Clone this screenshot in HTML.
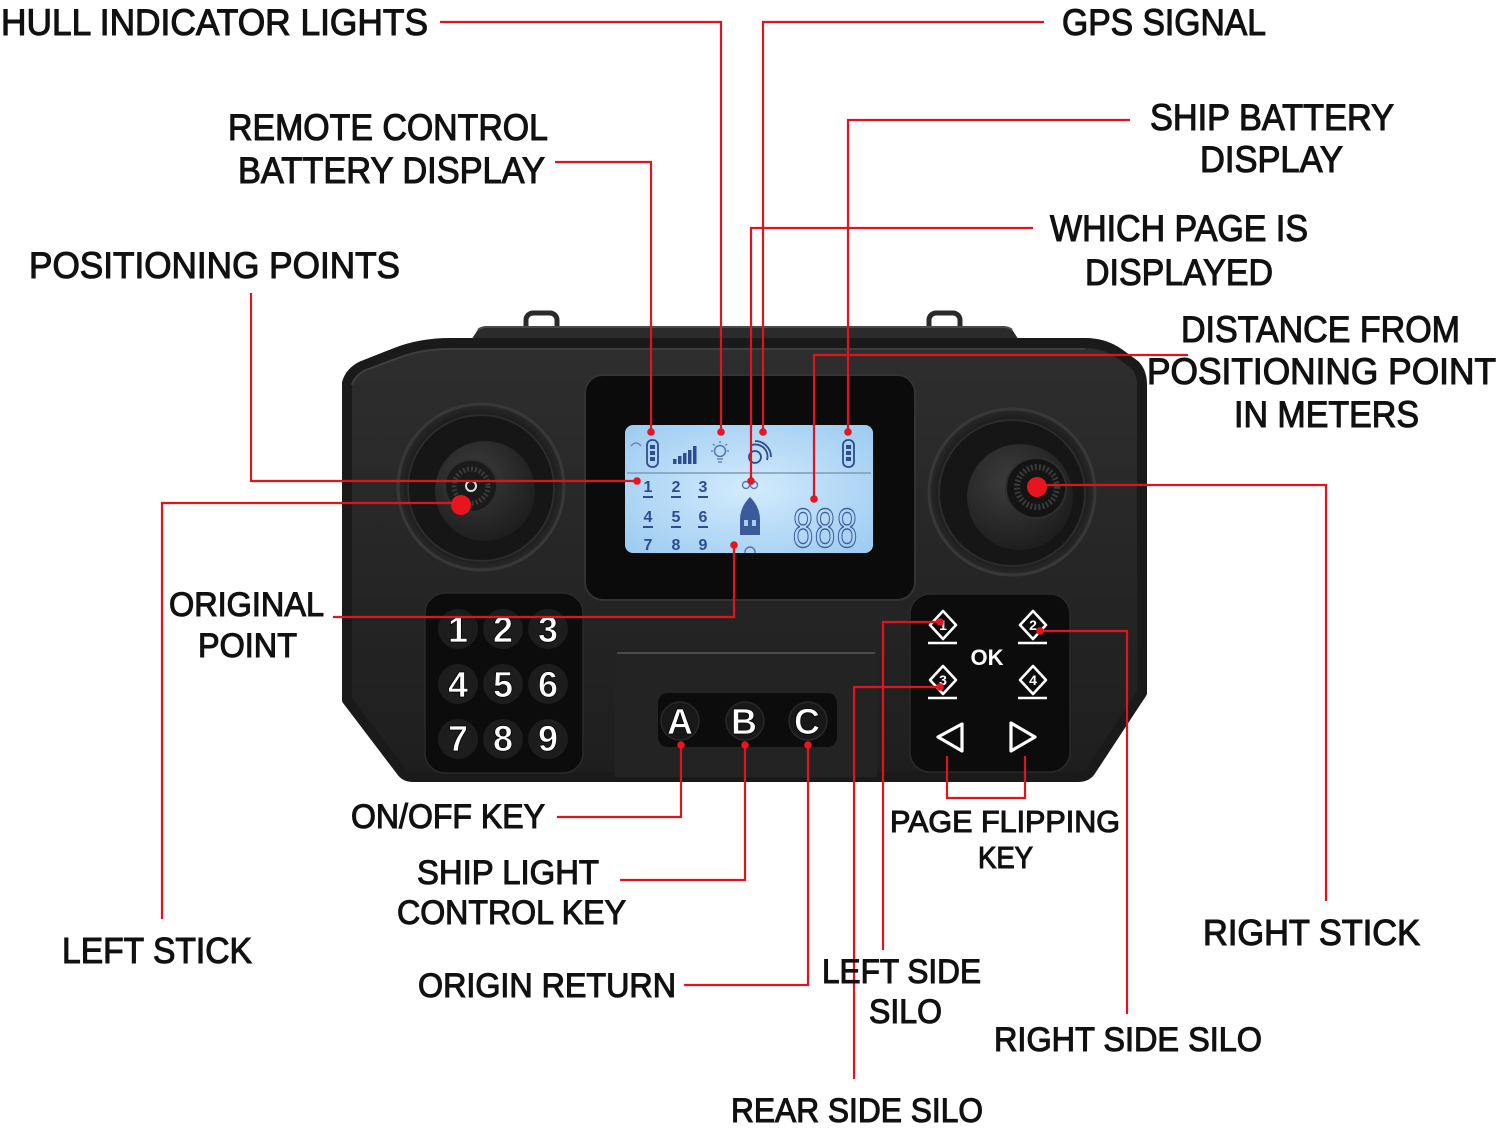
<!DOCTYPE html>
<html>
<head>
<meta charset="utf-8">
<style>
html,body{margin:0;padding:0;background:#fff;}
svg{display:block;}
.t{font-family:"Liberation Sans",sans-serif;font-size:37px;fill:#111;stroke:#111;stroke-width:1.1px;}
.s{font-size:34px;}
.k{font-family:"Liberation Sans",sans-serif;font-weight:bold;fill:#fff;stroke:#000;stroke-width:0.8px;text-anchor:middle;}
.lcd{font-family:"Liberation Sans",sans-serif;font-size:16px;font-weight:bold;fill:#2d4d90;text-anchor:middle;}
.r{fill:none;stroke:#e0141e;stroke-width:2.2;}
.d{fill:#e8141e;}
</style>
</head>
<body>
<svg width="1500" height="1129" viewBox="0 0 1500 1129" xmlns="http://www.w3.org/2000/svg">
<defs>
  <linearGradient id="bodyG" x1="0" y1="0" x2="0" y2="1">
    <stop offset="0" stop-color="#2e2e2e"/>
    <stop offset="1" stop-color="#1e1e1e"/>
  </linearGradient>
  <radialGradient id="lcdG" cx="0.5" cy="0.5" r="0.7">
    <stop offset="0" stop-color="#d2ebfd"/>
    <stop offset="1" stop-color="#9ccbf0"/>
  </radialGradient>
  <radialGradient id="capG" cx="0.4" cy="0.35" r="0.75">
    <stop offset="0" stop-color="#3c3c3c"/>
    <stop offset="1" stop-color="#1a1a1a"/>
  </radialGradient>
  <radialGradient id="ringG" cx="0.5" cy="0.5" r="0.5">
    <stop offset="0.8" stop-color="#141414"/>
    <stop offset="1" stop-color="#2a2a2a"/>
  </radialGradient>
  <clipPath id="lcdClip"><rect x="625" y="425" width="248" height="128" rx="8"/></clipPath>
</defs>

<rect x="0" y="0" width="1500" height="1129" fill="#fff"/>

<!-- tabs -->
<rect x="526" y="313" width="31" height="20" rx="7" fill="none" stroke="#2a2a2a" stroke-width="5"/>
<rect x="929" y="313" width="31" height="20" rx="7" fill="none" stroke="#2a2a2a" stroke-width="5"/>
<!-- raised band -->
<path d="M466,348 L477,331 Q480,326 487,326 H1003 Q1010,326 1013,331 L1024,348 Z" fill="#2b2b2b"/>
<path d="M478,330 Q481,327 487,327 H1003 Q1009,327 1012,330" fill="none" stroke="#4a4a4a" stroke-width="2"/>

<!-- body -->
<path d="M347,383 Q350,372 362,366 L395,353 Q420,343 450,343 H1085 Q1105,343 1120,354 L1135,365 Q1142,372 1142,385 V693 L1090,772 Q1086,777 1078,777 H413 Q405,777 401,771 L347,700 Z"
      fill="url(#bodyG)" stroke="#1a1a1a" stroke-width="10" stroke-linejoin="round"/>
<path d="M352,385 Q355,375 366,370 L398,358 Q422,349 450,349 H1085" fill="none" stroke="#3e3e3e" stroke-width="2"/>

<!-- left joystick -->
<circle cx="481" cy="487" r="83" fill="url(#ringG)" stroke="#383838" stroke-width="3"/>
<circle cx="481" cy="488" r="73" fill="#161616" stroke="#2c2c2c" stroke-width="2"/>
<circle cx="485" cy="491" r="50" fill="url(#capG)"/>
<circle cx="471" cy="486" r="26" fill="#1a1a1a" stroke="#2e2e2e" stroke-width="2"/>
<circle cx="471" cy="486" r="17" fill="none" stroke="#3a3a3a" stroke-width="5" stroke-dasharray="2 2"/>
<circle cx="471" cy="486" r="5" fill="none" stroke="#ddd" stroke-width="2"/>

<!-- right joystick -->
<circle cx="1012" cy="492" r="83" fill="url(#ringG)" stroke="#383838" stroke-width="3"/>
<circle cx="1012" cy="493" r="73" fill="#161616" stroke="#2c2c2c" stroke-width="2"/>
<circle cx="1020" cy="497" r="53" fill="url(#capG)"/>
<circle cx="1036" cy="488" r="30" fill="#141414" stroke="#2e2e2e" stroke-width="2"/>
<circle cx="1037" cy="487" r="20" fill="none" stroke="#3a3a3a" stroke-width="6" stroke-dasharray="2 2"/>

<!-- LCD bezel -->
<rect x="585" y="375" width="330" height="225" rx="18" fill="#0b0b0b" stroke="#333" stroke-width="2"/>
<rect x="625" y="425" width="248" height="128" rx="8" fill="url(#lcdG)"/>
<g clip-path="url(#lcdClip)">
  <path d="M631,446 Q636,440 641,446" fill="none" stroke="#6d86b8" stroke-width="1.5"/>
  <rect x="647" y="440" width="11" height="27" rx="5" fill="none" stroke="#2d4d90" stroke-width="1.8"/>
  <rect x="650" y="445" width="5" height="4" fill="#2d4d90"/>
  <rect x="650" y="451" width="5" height="4" fill="#2d4d90"/>
  <rect x="650" y="457" width="5" height="4" fill="#2d4d90"/>
  <rect x="673" y="459" width="3.5" height="5" fill="#2d4d90"/>
  <rect x="678" y="456" width="3.5" height="8" fill="#2d4d90"/>
  <rect x="683" y="453" width="3.5" height="11" fill="#2d4d90"/>
  <rect x="688" y="450" width="3.5" height="14" fill="#2d4d90"/>
  <rect x="693" y="446" width="3.5" height="18" fill="#2d4d90"/>
  <circle cx="720" cy="451" r="5.5" fill="none" stroke="#5873ad" stroke-width="1.5"/>
  <path d="M717,459 H723 M718,462 H722 M720,441 V443 M711,451 H713 M727,451 H729 M713,444 L714.5,445.5 M727,444 L725.5,445.5" stroke="#5873ad" stroke-width="1.3"/>
  <circle cx="755" cy="457" r="6" fill="none" stroke="#2d4d90" stroke-width="1.8"/>
  <path d="M752,445 A12,12 0 0 1 767,460 M755,441 A16,16 0 0 1 771,457" fill="none" stroke="#2d4d90" stroke-width="1.8"/>
  <rect x="843" y="440" width="11" height="27" rx="5" fill="none" stroke="#2d4d90" stroke-width="1.8"/>
  <rect x="846" y="445" width="5" height="4" fill="#2d4d90"/>
  <rect x="846" y="451" width="5" height="4" fill="#2d4d90"/>
  <rect x="846" y="457" width="5" height="4" fill="#2d4d90"/>
  <line x1="627" y1="473" x2="871" y2="473" stroke="#7d9bb5" stroke-width="1.5"/>
  <text class="lcd" x="648" y="492">1</text>
  <text class="lcd" x="676" y="492">2</text>
  <text class="lcd" x="703" y="492">3</text>
  <text class="lcd" x="648" y="522">4</text>
  <text class="lcd" x="676" y="522">5</text>
  <text class="lcd" x="703" y="522">6</text>
  <text class="lcd" x="648" y="550">7</text>
  <text class="lcd" x="676" y="550">8</text>
  <text class="lcd" x="703" y="550">9</text>
  <path d="M643,497 H653 M671,497 H681 M698,497 H708 M643,527 H653 M671,527 H681 M698,527 H708" stroke="#2d4d90" stroke-width="2"/>
  <circle cx="746" cy="485" r="3.5" fill="none" stroke="#5873ad" stroke-width="1.4"/>
  <circle cx="754" cy="485" r="3.5" fill="none" stroke="#5873ad" stroke-width="1.4"/>
  <path d="M750,497 Q760,507 760,520 V535 H740 V520 Q740,507 750,497 Z" fill="#3b5a9c"/>
  <rect x="744" y="520" width="4" height="6" fill="#a9cdf0"/>
  <rect x="752" y="520" width="4" height="6" fill="#a9cdf0"/>
  <circle cx="750" cy="552" r="5" fill="none" stroke="#5873ad" stroke-width="1.4"/>
  <text x="792" y="547" font-family="DejaVu Sans Mono, monospace" font-size="52" fill="none" stroke="#3d5d9c" stroke-width="1.4" textLength="66" lengthAdjust="spacingAndGlyphs">888</text>
</g>

<!-- left keypad -->
<rect x="425" y="593" width="158" height="180" rx="20" fill="#0c0c0c" stroke="#2a2a2a" stroke-width="1.5"/>
<g fill="#1d1d1d">
  <circle cx="458" cy="629" r="20"/><circle cx="503" cy="629" r="20"/><circle cx="548" cy="629" r="20"/>
  <circle cx="458" cy="684" r="20"/><circle cx="503" cy="684" r="20"/><circle cx="548" cy="684" r="20"/>
  <circle cx="458" cy="739" r="20"/><circle cx="503" cy="739" r="20"/><circle cx="548" cy="739" r="20"/>
</g>
<g class="k" font-size="36">
  <text x="458" y="642">1</text><text x="503" y="642">2</text><text x="548" y="642">3</text>
  <text x="458" y="697">4</text><text x="503" y="697">5</text><text x="548" y="697">6</text>
  <text x="458" y="751">7</text><text x="503" y="751">8</text><text x="548" y="751">9</text>
</g>

<!-- middle panel -->
<rect x="615" y="652" width="262" height="125" fill="#232323"/>
<line x1="617" y1="653" x2="875" y2="653" stroke="#4a4a4a" stroke-width="2"/>
<rect x="658" y="693" width="179" height="54" rx="10" fill="#0c0c0c"/>
<circle cx="680" cy="721" r="19" fill="#181818" stroke="#282828" stroke-width="1.5"/>
<circle cx="745" cy="721" r="19" fill="#181818" stroke="#282828" stroke-width="1.5"/>
<circle cx="808" cy="721" r="19" fill="#181818" stroke="#282828" stroke-width="1.5"/>
<g class="k" font-size="36">
  <text x="680" y="734">A</text><text x="744" y="734">B</text><text x="807" y="734">C</text>
</g>

<!-- right keypad -->
<rect x="910" y="594" width="160" height="178" rx="20" fill="#0c0c0c" stroke="#2a2a2a" stroke-width="1.5"/>
<g fill="none" stroke="#fff" stroke-width="2.6" stroke-linejoin="round">
  <path d="M943,611 L956,625 L943,639 L930,625 Z"/>
  <path d="M1033,611 L1046,625 L1033,639 L1020,625 Z"/>
  <path d="M943,666 L956,680 L943,694 L930,680 Z"/>
  <path d="M1033,666 L1046,680 L1033,694 L1020,680 Z"/>
  <path d="M928,643 H957 M1018,643 H1047 M928,698 H957 M1018,698 H1047"/>
  <path d="M962,724 L938,737 L962,751 Z" stroke-width="3.2"/>
  <path d="M1011,723 L1035,737 L1011,751 Z" stroke-width="3.2"/>
</g>
<g font-family="Liberation Sans, sans-serif" font-weight="bold" fill="#fff" text-anchor="middle">
  <text x="943" y="630" font-size="14">1</text>
  <text x="1033" y="630" font-size="14">2</text>
  <text x="943" y="685" font-size="14">3</text>
  <text x="1033" y="685" font-size="14">4</text>
  <text x="987" y="665" font-size="22">OK</text>
</g>

<!-- red leader lines -->
<path class="r" d="M440,22 H721 V432"/>
<path class="r" d="M555,162 H651 V432"/>
<path class="r" d="M251,293 V481 H637"/>
<path class="r" d="M1044,22 H763 V432"/>
<path class="r" d="M1130,120 H848 V432"/>
<path class="r" d="M1033,228 H751 V481"/>
<path class="r" d="M1188,355 H814 V499"/>
<path class="r" d="M1037,485 H1326 V901"/>
<path class="r" d="M162,919 V503 H461"/>
<path class="r" d="M333,617 H734 V545"/>
<path class="r" d="M557,817 H681 V745"/>
<path class="r" d="M620,880 H745 V745"/>
<path class="r" d="M684,985 H808 V745"/>
<path class="r" d="M947,756 V798 H1025 V756"/>
<path class="r" d="M883,950 V622 H940"/>
<path class="r" d="M1127,1014 V631 H1040"/>
<path class="r" d="M854,1079 V687 H940"/>

<!-- dots -->
<g class="d">
  <circle cx="721" cy="432" r="3.8"/><circle cx="651" cy="432" r="3.8"/>
  <circle cx="763" cy="432" r="3.8"/><circle cx="848" cy="432" r="3.8"/>
  <circle cx="637" cy="481" r="3.8"/><circle cx="751" cy="481" r="3.8"/>
  <circle cx="814" cy="499" r="3.8"/><circle cx="734" cy="545" r="3.8"/>
  <circle cx="681" cy="745" r="3.8"/><circle cx="745" cy="745" r="3.8"/>
  <circle cx="808" cy="745" r="3.8"/><circle cx="940" cy="622" r="3.8"/>
  <circle cx="1040" cy="631" r="3.8"/><circle cx="940" cy="687" r="3.8"/>
  <circle cx="461" cy="505" r="10"/><circle cx="1037" cy="487" r="10"/>
</g>

<!-- labels -->
<g class="t">
  <text x="1" y="35" textLength="427" lengthAdjust="spacingAndGlyphs">HULL INDICATOR LIGHTS</text>
  <text x="228" y="140" textLength="320" lengthAdjust="spacingAndGlyphs">REMOTE CONTROL</text>
  <text x="238" y="183" textLength="307" lengthAdjust="spacingAndGlyphs">BATTERY DISPLAY</text>
  <text x="29" y="278" textLength="371" lengthAdjust="spacingAndGlyphs">POSITIONING POINTS</text>
  <text x="1062" y="35" textLength="204" lengthAdjust="spacingAndGlyphs">GPS SIGNAL</text>
  <text x="1150" y="130" textLength="244" lengthAdjust="spacingAndGlyphs">SHIP BATTERY</text>
  <text x="1200" y="172" textLength="143" lengthAdjust="spacingAndGlyphs">DISPLAY</text>
  <text x="1050" y="241" textLength="258" lengthAdjust="spacingAndGlyphs">WHICH PAGE IS</text>
  <text x="1085" y="285" textLength="188" lengthAdjust="spacingAndGlyphs">DISPLAYED</text>
  <text x="1181" y="342" textLength="279" lengthAdjust="spacingAndGlyphs">DISTANCE FROM</text>
  <text x="1147" y="384" textLength="349" lengthAdjust="spacingAndGlyphs">POSITIONING POINT</text>
  <text x="1234" y="427" textLength="185" lengthAdjust="spacingAndGlyphs">IN METERS</text>
  <text class="s" x="169" y="616" textLength="155" lengthAdjust="spacingAndGlyphs">ORIGINAL</text>
  <text class="s" x="198" y="657" textLength="99" lengthAdjust="spacingAndGlyphs">POINT</text>
  <text x="62" y="963" style="font-size:36px" textLength="190" lengthAdjust="spacingAndGlyphs">LEFT STICK</text>
  <text class="s" x="351" y="828" textLength="194" lengthAdjust="spacingAndGlyphs">ON/OFF KEY</text>
  <text class="s" x="417" y="884" textLength="182" lengthAdjust="spacingAndGlyphs">SHIP LIGHT</text>
  <text class="s" x="397" y="924" textLength="229" lengthAdjust="spacingAndGlyphs">CONTROL KEY</text>
  <text class="s" x="418" y="997" textLength="258" lengthAdjust="spacingAndGlyphs">ORIGIN RETURN</text>
  <text x="890" y="832" style="font-size:31px" textLength="230" lengthAdjust="spacingAndGlyphs">PAGE FLIPPING</text>
  <text x="978" y="868" style="font-size:31px" textLength="55" lengthAdjust="spacingAndGlyphs">KEY</text>
  <text class="s" x="822" y="983" textLength="159" lengthAdjust="spacingAndGlyphs">LEFT SIDE</text>
  <text class="s" x="869" y="1023" textLength="73" lengthAdjust="spacingAndGlyphs">SILO</text>
  <text class="s" x="994" y="1051" textLength="268" lengthAdjust="spacingAndGlyphs">RIGHT SIDE SILO</text>
  <text x="1203" y="945" style="font-size:36px" textLength="217" lengthAdjust="spacingAndGlyphs">RIGHT STICK</text>
  <text class="s" x="731" y="1122" textLength="252" lengthAdjust="spacingAndGlyphs">REAR SIDE SILO</text>
</g>
</svg>
</body>
</html>
